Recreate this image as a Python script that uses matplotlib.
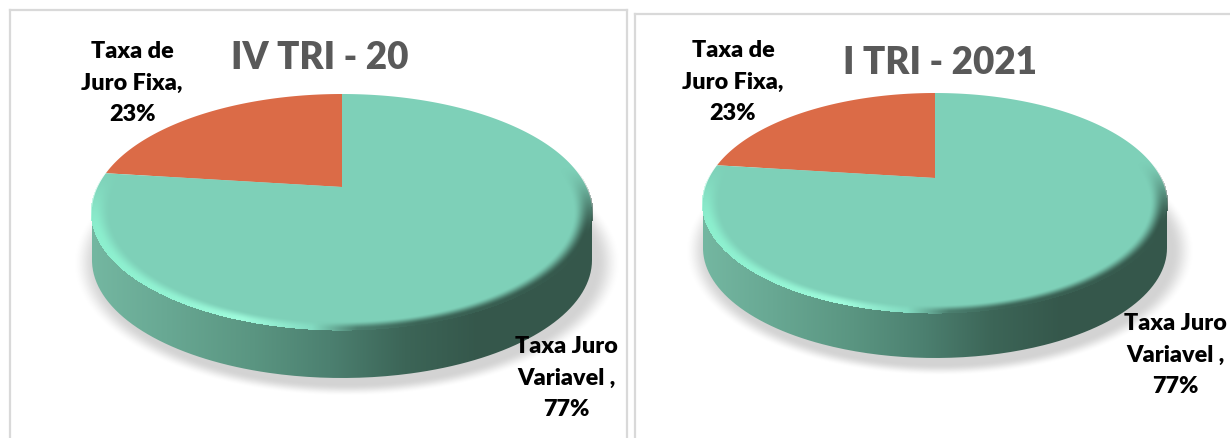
import numpy as np
import matplotlib
matplotlib.use("Agg")
import matplotlib.pyplot as plt
from matplotlib.path import Path
from matplotlib.patches import PathPatch
from matplotlib.transforms import Transform, Affine2D
from matplotlib.colors import to_rgb

plt.rcParams['font.family'] = ['Lato', 'DejaVu Sans']

categories = ["Taxa de\nJuro Fixa,", "Taxa Juro\nVariavel ,"]
titles = ["IV TRI - 20", "I TRI - 2021"]
values_q4 = [23, 77]
values_q1 = [23, 77]
colors = ["#DB6B47", "#7ED0B8"]

W, H = 1230, 438
fig = plt.figure(figsize=(W / 100, H / 100), dpi=100, facecolor="white")


class Persp(Transform):
    """Unit-disk pie -> tilted ellipse in pixel coordinates, with perspective."""
    input_dims = output_dims = 2
    is_affine = False
    has_inverse = False

    def __init__(self, cx, cy, rx, ry, t):
        super().__init__()
        self.p = (cx, cy, rx, ry, t)

    def transform_non_affine(self, v):
        cx, cy, rx, ry, t = self.p
        v = np.asarray(v, float)
        d = 1 + t * v[:, 1]
        return np.c_[cx + rx * v[:, 0] * np.sqrt(1 - t * t) / d,
                     cy - ry * (v[:, 1] + t) / d]

    def transform_path_non_affine(self, path):
        polys = path.to_polygons(transform=Affine2D().scale(2000), closed_only=False)
        pts = np.vstack(polys) / 2000
        return Path(self.transform_non_affine(pts))


def smooth(a, b, x):
    s = np.clip((x - a) / (b - a), 0, 1)
    return s * s * (3 - 2 * s)


def ramp(x, stops):
    xs = [s[0] for s in stops]
    cols = np.array([to_rgb(s[1]) for s in stops])
    return np.dstack([np.interp(x, xs, cols[:, i]) for i in range(3)])


def panel(box, values, title, title_xy, cx, cy, rx, ry, apex_y, depth,
          lab1, lab2, fs):
    x0, x1, y0, y1 = box
    ax = fig.add_axes([x0 / W, 1 - y1 / H, (x1 - x0) / W, (y1 - y0) / H])
    wedges, _ = ax.pie(values, colors=colors, startangle=90, counterclock=True,
                       wedgeprops=dict(linewidth=0))
    ax.set_aspect("auto")
    ax.set_frame_on(True)
    for s in ax.spines.values():
        s.set_color("#D9D9D9")
        s.set_linewidth(1.6)
    ax.spines["bottom"].set_visible(False)

    X, Y = np.meshgrid(np.arange(x0, x1) + .5, np.arange(y0, y1) + .5)
    ext = (x0, x1, y1, y0)
    nx = (X - cx) / rx

    # soft drop shadow under the disk
    rs = np.hypot((X - cx - 5) / (rx + 7), (Y - cy - depth - 3) / (ry + 7))
    shadow = np.zeros(X.shape + (4,))
    shadow[..., :3] = 0.55
    shadow[..., 3] = 0.38 * (1 - smooth(0.97, 1.065, rs))
    ax.imshow(shadow, extent=ext, aspect="auto", zorder=0.5, interpolation="bilinear")

    # side wall, horizontal shading
    th = np.linspace(0, 2 * np.pi, 361)
    ex, ey = cx + rx * np.cos(th), cy + ry * np.sin(th)
    side_pts = np.r_[np.c_[ex[:181], ey[:181] + depth],
                     [[cx - rx, cy - 5], [cx + rx, cy - 5]]]
    side_rgb = ramp(nx, [(-1, "#74B7A1"), (-.7, "#68A893"), (-.35, "#5A9581"),
                         (-.05, "#4C8070"), (.25, "#3C6557"), (.55, "#35574B"), (1, "#35574B")])
    im = ax.imshow(side_rgb, extent=ext, aspect="auto", zorder=1, interpolation="bilinear")
    clip = PathPatch(Path(side_pts), transform=ax.transData, fc="none", ec="none")
    ax.add_patch(clip)
    im.set_clip_path(clip)

    # pie slices drawn from the values through the perspective mapping
    tr = Persp(cx, cy, rx, ry, (cy - apex_y) / ry)
    for w in wedges:
        w.set_transform(tr + ax.transData)
        w.set_zorder(2)
        w.set_clip_on(False)

    # bevel at the rim of the top face
    r = np.hypot(nx, (Y - cy) / ry)
    lower = smooth(-0.4, 0.2, (Y - cy) / ry)
    band = smooth(0.925, 0.99, r) * lower
    bev = ramp(nx, [(-1, "#8CEFCE"), (-.7, "#93F3D3"), (-.4, "#9FFBDC"), (-.12, "#84DCC2"),
                    (.06, "#4C8070"), (.3, "#3C6557"), (1, "#35574B")])
    rgba = np.dstack([bev, band * (r <= 1.005)])
    ax.imshow(rgba, extent=ext, aspect="auto", zorder=3, interpolation="bilinear")

    ax.set_xlim(x0, x1)
    ax.set_ylim(y1, y0)
    ax.set_xticks([])
    ax.set_yticks([])

    ax.text(*title_xy, title, fontsize=fs[0], fontweight="heavy", color="#595959",
            ha="center", va="center", zorder=5)
    ax.text(*lab1, f"{categories[0]}\n{values[0]}%", fontsize=fs[1], fontweight="heavy",
            color="black", ha="center", va="center", linespacing=1.62, zorder=6)
    ax.text(*lab2, f"{categories[1]}\n{values[1]}%", fontsize=fs[1], fontweight="heavy",
            color="black", ha="center", va="center", linespacing=1.62, zorder=6)


panel((10, 627, 10, 445), values_q4, titles[0], (320, 58), 342, 212, 250, 118, 187, 48,
      (132, 83), (566, 378), (26.5, 16.8))
panel((635, 1240, 14, 445), values_q1, titles[1], (940, 63), 935, 203, 232, 110, 178, 45,
      (733, 82), (1175, 355), (26.5, 16.8))

fig.savefig("out.png", dpi=100, facecolor="white")
